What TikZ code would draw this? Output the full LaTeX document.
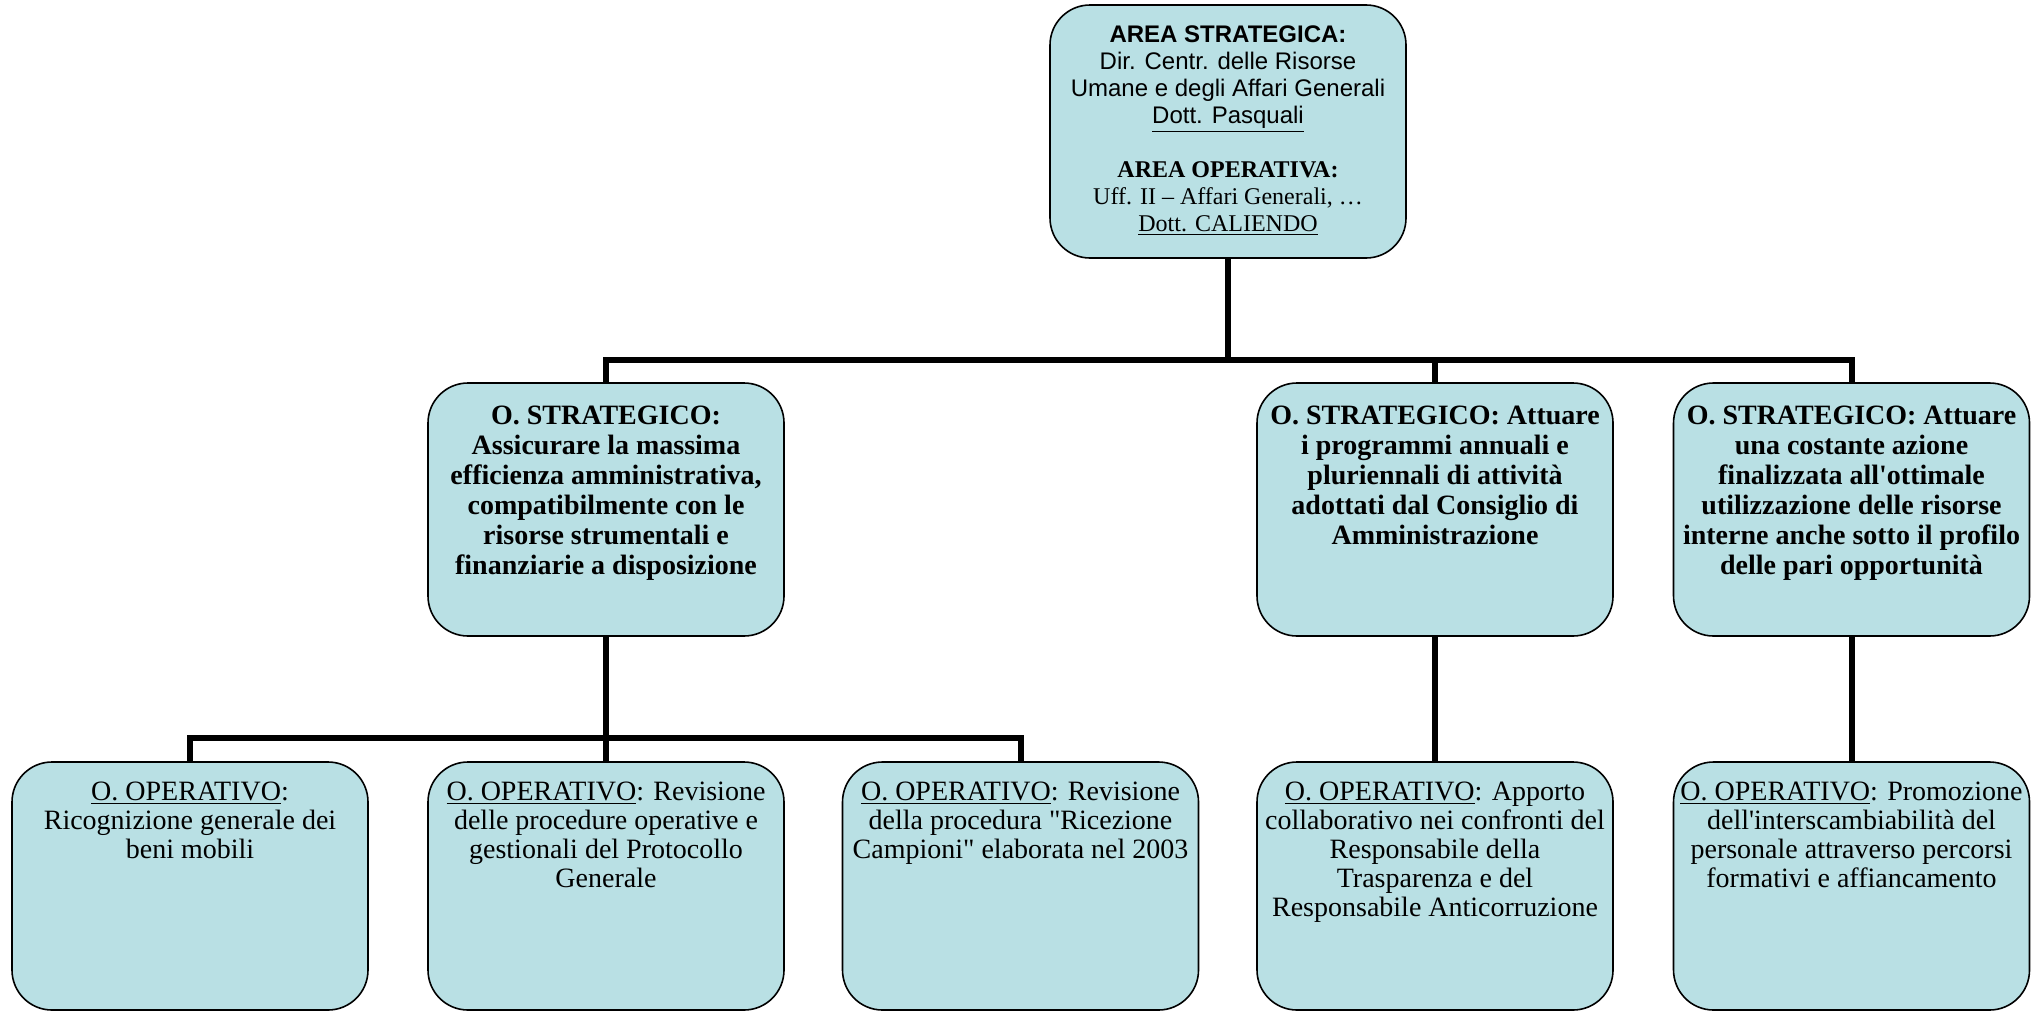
\documentclass[tikz,border=0pt]{standalone}
\usepackage{fontspec}
\setmainfont{Liberation Serif}
\newfontfamily\arialfont{Liberation Sans}
\definecolor{boxblue}{RGB}{185,224,228}
\begin{document}
\begin{tikzpicture}[x=0.5pt,y=-0.5pt,
  box/.style={draw=black, line width=0.8pt, fill=boxblue, rounded corners=20pt,
    minimum width=178pt, inner sep=0pt},
  midbox/.style={box, minimum height=126.5pt},
  botbox/.style={box, minimum height=124pt},
  txt/.style={anchor=north, align=center, inner sep=0pt, font=\fontsize{14}{14.5}\selectfont},
  boldtxt/.style={txt, font=\fontsize{14}{15}\selectfont\bfseries},
  toptxt/.style={anchor=north, align=center, inner sep=0pt, font=\fontsize{12}{13.5}\selectfont},
  conn/.style={line width=3pt, line join=miter}]
\useasboundingbox (0,0) rectangle (2038,1012);
% boxes
\node[midbox] (top) at (1228,131.5) {};
\node[midbox] (m1) at (606,509.5) {};
\node[midbox] (m2) at (1435,509.5) {};
\node[midbox] (m3) at (1851.5,509.5) {};
\node[botbox] (b1) at (190,886) {};
\node[botbox] (b2) at (606,886) {};
\node[botbox] (b3) at (1020.5,886) {};
\node[botbox] (b4) at (1435,886) {};
\node[botbox] (b5) at (1851.5,886) {};
% connectors
\coordinate (bus1) at (0,360);
\coordinate (bus2) at (0,738);
\draw[conn] (top.south) -- (top.south |- bus1);
\draw[conn] (m1.north) |- (top.south |- bus1) -| (m3.north);
\draw[conn] (m2.north) -- (m2.north |- bus1);
\draw[conn] (m1.south) -- (m1.south |- bus2);
\draw[conn] (b1.north) |- (m1.south |- bus2) -| (b3.north);
\draw[conn] (b2.north) -- (b2.north |- bus2);
\draw[conn] (m2.south) -- (b4.north);
\draw[conn] (m3.south) -- (b5.north);
% texts
\node[toptxt] (ttop) at (1228,23) {\strut{\arialfont\bfseries AREA STRATEGICA:}\\
  {\arialfont Dir. Centr. delle Risorse}\\
  {\arialfont Umane e degli Affari Generali}\\
  {\arialfont\underline{Dott. Pasquali}}\\[13.5pt]
  \textbf{AREA OPERATIVA:}\\
  Uff. II – Affari Generali, …\\
  \underline{Dott. CALIENDO}};
\node[boldtxt] (tm1) at (606,403) {\strut O. STRATEGICO:\\
  Assicurare la massima\\ efficienza amministrativa,\\ compatibilmente con le\\
  risorse strumentali e\\ finanziarie a disposizione};
\node[boldtxt] (tm2) at (1435,403) {\strut O. STRATEGICO: Attuare\\
  i programmi annuali e\\ pluriennali di attività\\ adottati dal Consiglio di\\ Amministrazione};
\node[boldtxt] (tm3) at (1851.5,403) {\strut O. STRATEGICO: Attuare\\
  una costante azione\\ finalizzata all\textquotesingle ottimale\\ utilizzazione delle risorse\\
  interne anche sotto il profilo\\ delle pari opportunità};
\node[txt] (tb1) at (190,779.7) {\strut\underline{O. OPERATIVO}:\\ Ricognizione generale dei\\ beni mobili};
\node[txt] (tb2) at (606,779.7) {\strut\underline{O. OPERATIVO}: Revisione\\ delle procedure operative e\\
  gestionali del Protocollo\\ Generale};
\node[txt] (tb3) at (1020.5,779.7) {\strut\underline{O. OPERATIVO}: Revisione\\ della procedura \textquotedbl Ricezione\\
  Campioni\textquotedbl{} elaborata nel 2003};
\node[txt] (tb4) at (1435,779.7) {\strut\underline{O. OPERATIVO}: Apporto\\ collaborativo nei confronti del\\
  Responsabile della\\ Trasparenza e del\\ Responsabile Anticorruzione};
\node[txt] (tb5) at (1851.5,779.7) {\strut\underline{O. OPERATIVO}: Promozione\\
  dell\textquotesingle interscambiabilità del\\ personale attraverso percorsi\\ formativi e affiancamento};
\end{tikzpicture}
\end{document}
